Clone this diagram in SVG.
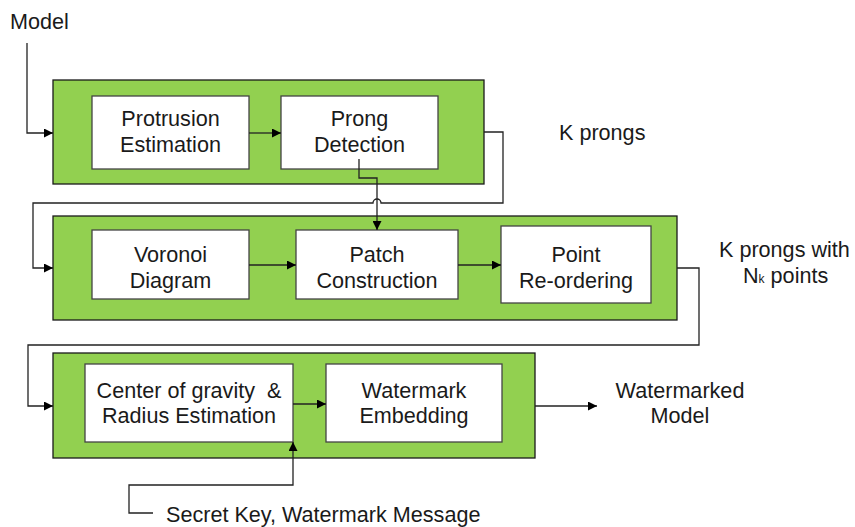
<svg xmlns="http://www.w3.org/2000/svg" width="855" height="527" viewBox="0 0 855 527">
<style>
.stage{fill:#92D050;stroke:#1a1a1a;stroke-width:1.3}
.box{fill:#fff;stroke:#444;stroke-width:1.3}
text{font-family:"Liberation Sans",Arial,sans-serif;font-size:21.6px;fill:#1a1a1a}
.c{text-anchor:middle}
.ln{fill:none;stroke:#222;stroke-width:1.3}
</style>
<defs>
<marker id="ah" viewBox="0 0 10 10" refX="10" refY="5" markerWidth="9" markerHeight="9" markerUnits="userSpaceOnUse" orient="auto">
<path d="M0,0 L10,5 L0,10 Z" fill="#000"/>
</marker>
</defs>
<rect width="855" height="527" fill="#fff"/>
<g id="stage1"><rect class="stage" x="53" y="80" width="431" height="104"/></g>
<g id="stage2"><rect class="stage" x="53" y="216" width="624" height="104"/></g>
<g id="stage3"><rect class="stage" x="53" y="353" width="482" height="105"/></g>
<g id="protrusion"><rect class="box" x="92" y="96" width="157" height="73"/>
<text class="c" x="170.5" y="126">Protrusion</text><text class="c" x="170.5" y="152">Estimation</text></g>
<g id="prong"><rect class="box" x="281" y="96" width="157" height="73"/>
<text class="c" x="359.5" y="126">Prong</text><text class="c" x="359.5" y="152">Detection</text></g>
<g id="voronoi"><rect class="box" x="92" y="230" width="157" height="69"/>
<text class="c" x="170.5" y="262">Voronoi</text><text class="c" x="170.5" y="288">Diagram</text></g>
<g id="patch"><rect class="box" x="296" y="230" width="162" height="69"/>
<text class="c" x="377" y="262">Patch</text><text class="c" x="377" y="288">Construction</text></g>
<g id="point"><rect class="box" x="501" y="226" width="150" height="77"/>
<text class="c" x="576" y="262">Point</text><text class="c" x="576" y="288">Re-ordering</text></g>
<g id="center"><rect class="box" x="85" y="364" width="208" height="78"/>
<text class="c" x="189" y="398">Center of gravity&#160; &amp;</text><text class="c" x="189" y="423">Radius Estimation</text></g>
<g id="embed"><rect class="box" x="326" y="364" width="176" height="78"/>
<text class="c" x="414" y="398">Watermark</text><text class="c" x="414" y="423">Embedding</text></g>
<g id="labels">
<text x="10" y="29">Model</text>
<text x="559" y="140">K prongs</text>
<text x="719" y="257">K prongs with</text>
<text x="743" y="283">N<tspan font-size="12">k</tspan> points</text>
<text class="c" x="680" y="398">Watermarked</text>
<text class="c" x="680" y="423">Model</text>
<text x="166" y="522">Secret Key, Watermark Message</text>
</g>
<g id="connectors">
<path class="ln" d="M27,43 V133 H53" marker-end="url(#ah)"/>
<path class="ln" d="M249,133 H281" marker-end="url(#ah)"/>
<path class="ln" d="M359,159 V178 H377 V230" marker-end="url(#ah)"/>
<path class="ln" d="M484,132 H503 V203 H381 A4,4 0 0 0 373,203 H33 V268 H53" marker-end="url(#ah)"/>
<path class="ln" d="M249,265 H296" marker-end="url(#ah)"/>
<path class="ln" d="M458,265 H501" marker-end="url(#ah)"/>
<path class="ln" d="M677,268 H699 V345 H28 V406 H53" marker-end="url(#ah)"/>
<path class="ln" d="M293,404 H326" marker-end="url(#ah)"/>
<path class="ln" d="M535,406 H597" marker-end="url(#ah)"/>
<path class="ln" d="M153,513 H129 V485 H293 V442" marker-end="url(#ah)"/>
</g>
</svg>
